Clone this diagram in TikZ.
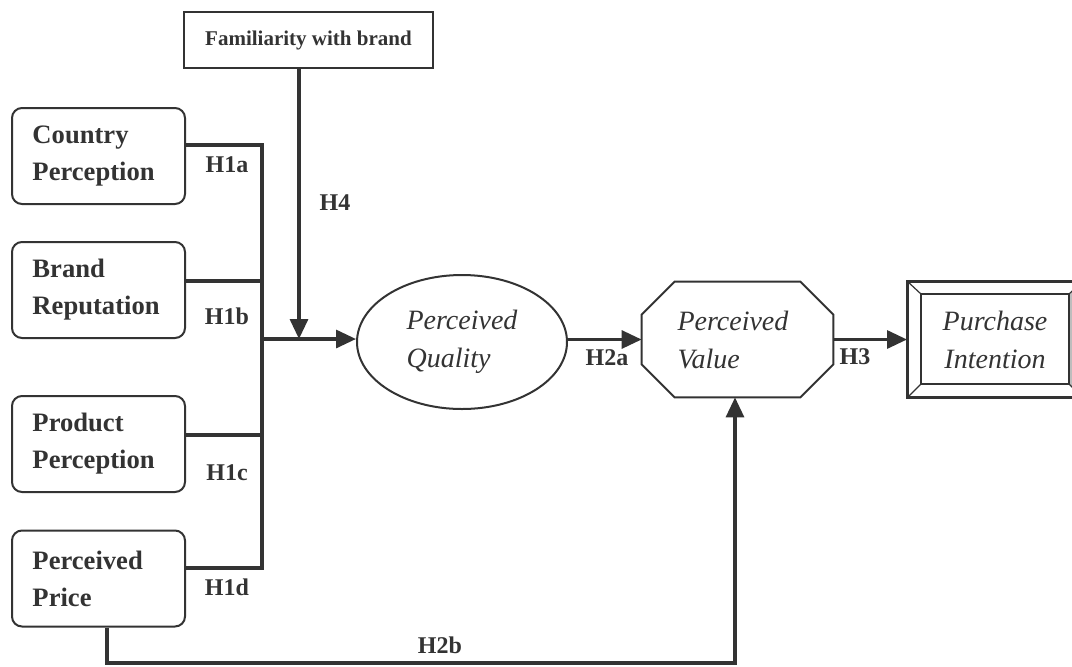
\documentclass[tikz,border=0pt]{standalone}
\usepackage{fontspec}
\setmainfont{Liberation Serif}
\usetikzlibrary{shapes.geometric,arrows.meta,positioning,calc}
\definecolor{ink}{HTML}{333333}
\definecolor{bevel}{HTML}{BDBDBD}

\begin{document}
\begin{tikzpicture}[x=0.5pt, y=-0.5pt,
    srcbox/.style={rectangle, rounded corners=5pt, draw=ink, line width=1pt, minimum width=86.5pt, minimum height=48pt, text width=66pt, align=left, inner sep=0pt, text=ink, font=\fontsize{13.3}{18.5}\selectfont\bfseries},
    construct/.style={inner sep=0pt, align=left, text=ink, font=\fontsize{14}{19}\selectfont\itshape},
    link/.style={draw=ink, line width=1.6pt},
    tip/.style={-{Triangle[length=10pt,width=9pt]}},
    hyp/.style={text=ink, font=\fontsize{12}{14}\selectfont\bfseries}]
    \useasboundingbox (0,0) rectangle (1072,666);

    % source constructs
    \node[srcbox] (cp) at (98.5,156) {Country\\Perception};
    \node[srcbox] (br) at (98.5,290) {Brand\\Reputation};
    \node[srcbox] (pp) at (98.5,444) {Product\\Perception};
    \node[srcbox] (pr) at (98.5,578.5) {Perceived\\Price};
    \node[rectangle, draw=ink, line width=0.6pt, minimum width=124.5pt, minimum height=28pt, text=ink, font=\fontsize{10.5}{12}\selectfont\bfseries] (fam) at (308.5,40) {Familiarity with brand};

    % outcome constructs
    \node[construct, ellipse, draw=ink, line width=1pt, minimum width=105pt, minimum height=67pt] (pq) at (462,342) {Perceived\\Quality};
    \node[construct, text width=60pt, minimum width=95.5pt, minimum height=57.5pt] (pv) at (737.5,339.5) {Perceived\\Value};
    \draw[ink, line width=1pt] ([xshift=16.5pt]pv.north west) -- ([xshift=-16.5pt]pv.north east) -- ([yshift=-16.5pt]pv.north east) -- ([yshift=16.5pt]pv.south east) -- ([xshift=-16.5pt]pv.south east) -- ([xshift=16.5pt]pv.south west) -- ([yshift=16.5pt]pv.south west) -- ([yshift=-16.5pt]pv.north west) -- cycle;
    \node[construct, align=center, draw=ink, line width=1pt, minimum width=87pt, minimum height=57.5pt] (pi) at (995,339.5) {Purchase\\Intention};
    \coordinate (pinw) at ($(pi.north west)+(7pt,-6.5pt)$);
    \coordinate (pine) at ($(pi.north east)+(-7pt,-6.5pt)$);
    \coordinate (pise) at ($(pi.south east)+(-7pt,7pt)$);
    \coordinate (pisw) at ($(pi.south west)+(7pt,7pt)$);
    \fill[bevel] (pi.north east) -- (pine) -- (pise) -- (pi.south east) -- cycle;
    \draw[ink, line width=1pt] (pi.north west) rectangle (pi.south east);
    \draw[ink, line width=1pt] (pinw) rectangle (pise);
    \draw[ink, line width=0.6pt] (pi.north west) -- (pinw) (pi.north east) -- (pine) (pi.south east) -- (pise) (pi.south west) -- (pisw);

    % bus of H1 paths
    \coordinate (bustop) at (262,145);
    \coordinate (busb) at (262,281);
    \coordinate (busc) at (262,435);
    \coordinate (busbot) at (262,568);
    \coordinate (join) at (262,339);
    \coordinate (h4) at (299,339);
    \coordinate (h2b) at (735,663);

    \draw[link] (cp.east |- bustop) -- (bustop) -- (busbot) -- (pr.east |- busbot);
    \draw[link] (br.east |- busb) -- (busb);
    \draw[link] (pp.east |- busc) -- (busc);
    \draw[link, tip] (join) -- (join -| pq.west);
    \draw[link, tip] (fam.south -| h4) -- (h4);
    \draw[link, tip] (pq.east |- pv.west) -- (pv.west);
    \draw[link, tip] (pv.east) -- (pi.west);
    \draw[link, tip] ([xshift=4.25pt]pr.south) |- (h2b) -- (h2b |- pv.south);

    % hypothesis labels
    \node[hyp] (l1a) at (227,165) {H1a};
    \node[hyp] (l1b) at (227,316) {H1b};
    \node[hyp] (l1c) at (227,473) {H1c};
    \node[hyp] (l1d) at (227,587) {H1d};
    \node[hyp] (l4) at (335,203) {H4};
    \node[hyp] (l2a) at (607,358) {H2a};
    \node[hyp] (l3) at (855,357) {H3};
    \node[hyp] (l2b) at (440,645) {H2b};
\end{tikzpicture}
\end{document}
